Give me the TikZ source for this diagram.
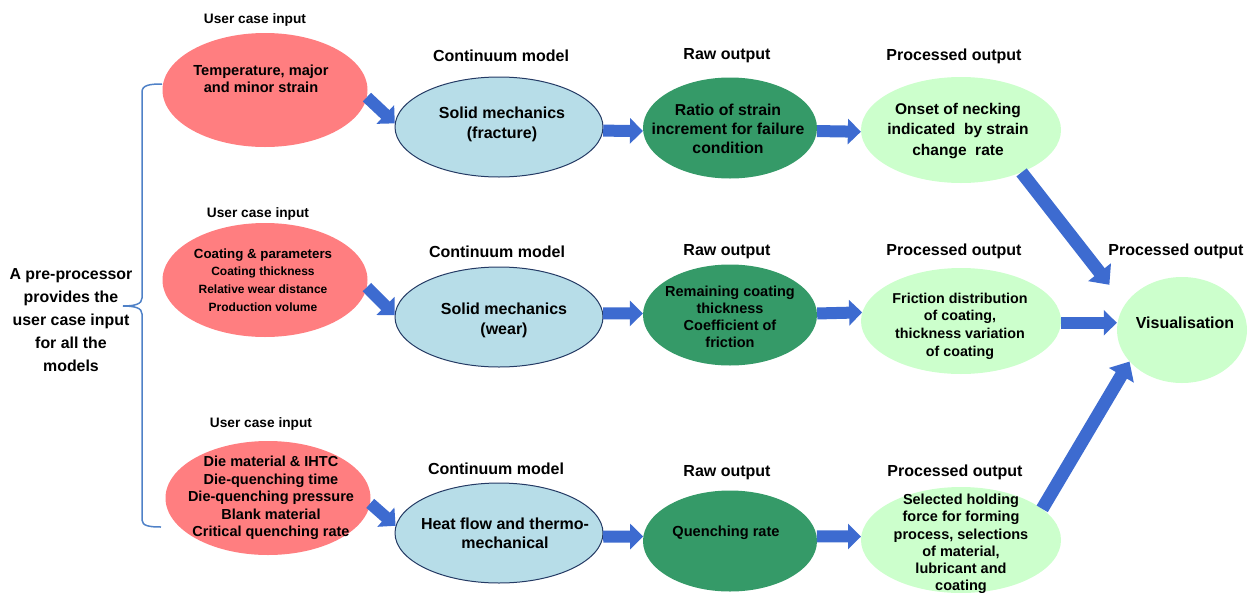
\documentclass[tikz,border=0pt]{standalone}
\usepackage{fontspec}
\setmainfont{Liberation Sans}
\usetikzlibrary{shapes.geometric,arrows.meta,calc}
\definecolor{inred}{RGB}{255,126,128}
\definecolor{contblue}{RGB}{183,221,232}
\definecolor{contline}{RGB}{36,58,100}
\definecolor{rawgreen}{RGB}{53,154,104}
\definecolor{procgreen}{RGB}{204,255,204}
\definecolor{arrblue}{RGB}{61,107,208}
\definecolor{braceblue}{RGB}{79,129,199}
\newcommand{\fsz}[2]{\fontsize{#1}{#2}\selectfont\bfseries}
\begin{document}
\begin{tikzpicture}[x=1pt,y=-1pt,
  ell/.style={ellipse,inner sep=0pt},
  inp/.style={ell,fill=inred,minimum width=205pt,minimum height=114pt},
  cont/.style={ell,fill=contblue,draw=contline,line width=1pt,minimum width=208pt,minimum height=100pt},
  raw/.style={ell,fill=rawgreen,minimum width=174pt,minimum height=101pt},
  proc/.style={ell,fill=procgreen,minimum width=200pt,minimum height=106pt},
  txt/.style={align=center,inner sep=0pt,text=black},
  hdr/.style={inner sep=0pt,text=black,font=\fsz{16}{19}},
  uhdr/.style={inner sep=0pt,text=black,font=\fsz{13.7}{16}},
  blk/.style={draw=arrblue,line width=12pt,-{Triangle[length=13pt,width=25pt]}},
  bigblk/.style={draw=arrblue,line width=13pt,-{Triangle[length=16pt,width=28pt]}},
  bracestyle/.style={draw=braceblue,line width=1.5pt}
]
\useasboundingbox (0,0) rectangle (1253,592);

% ---------- ellipses ----------
\node[inp] (in1) at (265,90) {};
\node[inp] (in2) at (265,280) {};
\node[inp] (in3) at (268,498) {};
\node[cont] (cm1) at (499,127) {};
\node[cont] (cm2) at (499,317) {};
\node[cont] (cm3) at (499,533) {};
\node[raw] (r1) at (730,128) {};
\node[raw] (r2) at (730,315) {};
\node[raw] (r3) at (730,541) {};
\node[proc] (p1) at (961,130) {};
\node[proc] (p2) at (961,321) {};
\node[proc] (p3) at (961,540) {};
\node[ell,fill=procgreen,minimum width=130pt,minimum height=106pt] (v) at (1182,330) {};

% ---------- headers ----------
\node[uhdr] (h11) at (255,20) {User case input};
\node[uhdr] (h21) at (258,214) {User case input};
\node[uhdr] (h31) at (261,424) {User case input};
\node[hdr] (h12) at (501,56) {Continuum model};
\node[hdr] (h22) at (497,252) {Continuum model};
\node[hdr] (h32) at (496,469) {Continuum model};
\node[hdr] (h13) at (727,56) {Raw output};
\node[hdr] (h23) at (727,252) {Raw output};
\node[hdr] (h33) at (727,473) {Raw output};
\node[hdr] (h14) at (954,56) {Processed output};
\node[hdr] (h24) at (954,251) {Processed output};
\node[hdr] (h34) at (955,472) {Processed output};
\node[hdr] (h5) at (1176,251) {Processed output};

% ---------- texts ----------
\node[txt,font=\fsz{14.6}{17}] (in1t) at (261,79) {Temperature, major\\and minor strain};
\node[txt,font=\fsz{12}{17.7}] (in2t) at (263,280) {{\fontsize{13.3}{17.7}\selectfont Coating \& parameters}\\Coating thickness\\Relative wear distance\\Production volume};
\node[txt,font=\fsz{14.5}{17.5}] (in3t) at (271,498) {Die material \& IHTC\\Die-quenching time\\Die-quenching pressure\\Blank material\\Critical quenching rate};
\node[txt,font=\fsz{16}{20}] (cm1t) at (502,124) {Solid mechanics\\(fracture)};
\node[txt,font=\fsz{16}{20}] (cm2t) at (504,320) {Solid mechanics\\(wear)};
\node[txt,font=\fsz{16}{19}] (cm3t) at (505,533) {Heat flow and thermo-\\mechanical};
\node[txt,font=\fsz{15.8}{19}] (r1t) at (728,129) {Ratio of strain\\increment for failure\\condition};
\node[txt,font=\fsz{14.5}{17}] (r2t) at (730,317) {Remaining coating\\thickness\\Coefficient of\\friction};
\node[txt,font=\fsz{14.6}{17}] (r3t) at (726,533) {Quenching rate};
\node[txt,font=\fsz{15.5}{20.5}] (p1t) at (958,131) {Onset of necking\\indicated\ \ by strain\\change\ \ rate};
\node[txt,font=\fsz{14.3}{17.6}] (p2t) at (960,326) {Friction distribution\\of coating,\\thickness variation\\of coating};
\node[txt,font=\fsz{14.5}{17.3}] (p3t) at (961,544) {Selected holding\\force for forming\\process, selections\\of material,\\lubricant and\\coating};
\node[txt,font=\fsz{16}{19}] (vt) at (1185,323) {Visualisation};
\node[txt,font=\fsz{15.9}{23}] (left) at (71,320) {A pre-processor\\provides the\\user case input\\for all the\\models};

% ---------- brace ----------
\draw[bracestyle] (162,84) .. controls (150,84) and (142,85) .. (142,92) -- (142,298)
  .. controls (142,304) and (135,306) .. (123,306)
  .. controls (135,306) and (142,308) .. (142,314) -- (142,520)
  .. controls (142,526) and (150,527) .. (161,527);

% ---------- arrows ----------
\draw[blk] (in1.-4) -- (cm1.178);
\draw[blk] (in2.-4) -- (cm2.179);
\draw[blk] (in3.-3) -- (cm3.176);
\draw[blk] (cm1.-2) -- (r1.182);
\draw[blk] (cm2.2) -- (r2.179);
\draw[blk] (cm3.-2) -- (r3.177);
\draw[blk] (r1.-2) -- (p1.181);
\draw[blk] (r2.1) -- (p2.175);
\draw[blk] (r3.3) -- (p3.178);
\draw[bigblk,shorten >=25pt] (p1.-35) -- (v.156);
\draw[blk] (p2.-1) -- (p2.-1 -| v.west);
\draw[bigblk] (p3.21) -- (v.211);
\end{tikzpicture}
\end{document}
